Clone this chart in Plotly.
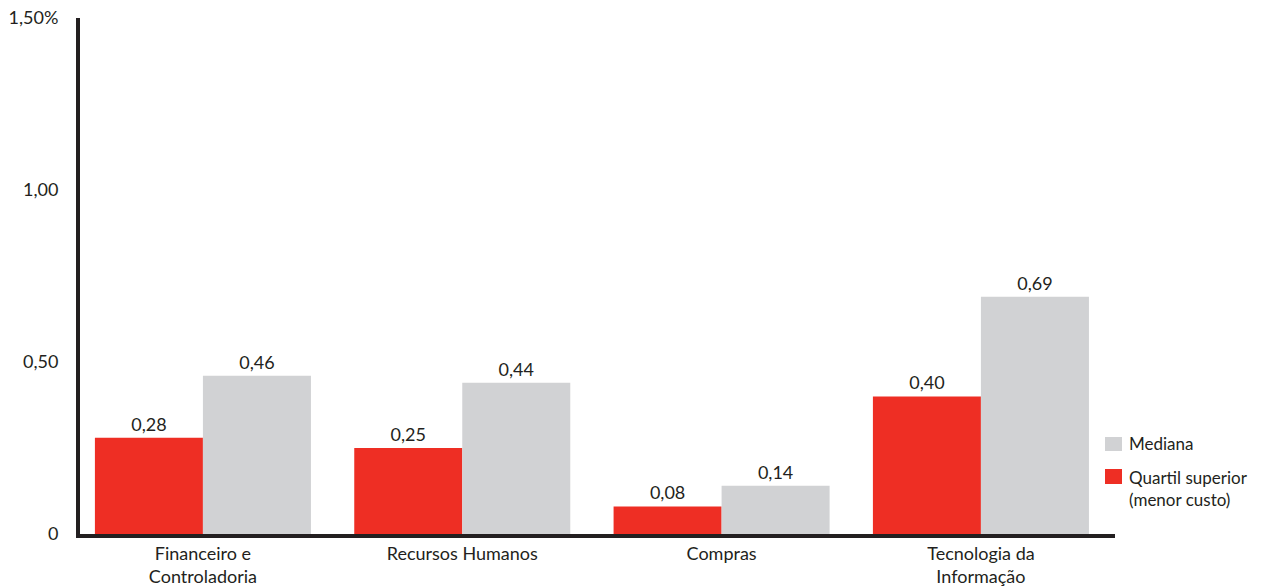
import plotly.graph_objects as go

# Cost per process area, as % of revenue
categorias = ["Financeiro e<br>Controladoria", "Recursos Humanos", "Compras", "Tecnologia da<br>Informação"]
quartil_superior = [0.28, 0.25, 0.08, 0.40]
mediana = [0.46, 0.44, 0.14, 0.69]
tick_vals = [0, 0.5, 1.0, 1.5]
tick_text = ["0", "0,50", "1,00", "1,50%"]
nome_mediana = "Mediana"
nome_quartil = "Quartil superior<br>(menor custo)"

VERMELHO = "#ee2e24"
CINZA = "#d1d2d4"
TEXTO = "#231f20"
FONTE = "Lato, 'Open Sans', sans-serif"

W, H = 1266, 587
M_L, M_R, M_T, M_B = 80, 151, 18, 53
PW, PH = W - M_L - M_R, H - M_T - M_B


def px_x(p):
    """Horizontal pixel position -> paper coordinate."""
    return (p - M_L) / PW


def px_y(p):
    """Vertical pixel position (from top) -> paper coordinate."""
    return (H - M_B - p) / PH


fig = go.Figure()
fig.add_trace(go.Bar(
    x=categorias, y=quartil_superior, name=nome_quartil,
    marker=dict(color=VERMELHO, line=dict(width=0)),
    texttemplate="%{y:.2f}", textposition="outside", cliponaxis=False,
    textfont=dict(size=18, color=TEXTO),
))
fig.add_trace(go.Bar(
    x=categorias, y=mediana, name=nome_mediana,
    marker=dict(color=CINZA, line=dict(width=0)),
    texttemplate="%{y:.2f}", textposition="outside", cliponaxis=False,
    textfont=dict(size=18, color=TEXTO),
))

# Legend: colour swatches with their labels, right of the plot
legenda = [
    (CINZA, nome_mediana, 437, 451, 443),
    (VERMELHO, nome_quartil, 469, 484, 488),
]
shapes, annotations = [], []
for cor, nome, topo, base, centro in legenda:
    shapes.append(dict(
        type="rect", xref="paper", yref="paper",
        x0=px_x(1105), x1=px_x(1122), y0=px_y(base), y1=px_y(topo),
        fillcolor=cor, line=dict(width=0), layer="above",
    ))
    annotations.append(dict(
        xref="paper", yref="paper", x=px_x(1127), y=px_y(centro),
        xanchor="left", yanchor="middle", align="left", showarrow=False,
        text=nome, font=dict(size=17, color=TEXTO, family=FONTE),
    ))

fig.update_layout(
    width=W, height=H,
    margin=dict(l=M_L, r=M_R, t=M_T, b=M_B),
    paper_bgcolor="white", plot_bgcolor="white",
    separators=",.",
    barmode="group", bargap=0.167, bargroupgap=0,
    font=dict(family=FONTE, size=18, color=TEXTO),
    showlegend=False,
    shapes=shapes, annotations=annotations,
)
fig.update_xaxes(
    showline=True, linewidth=4, linecolor=TEXTO,
    showgrid=False, ticks="", tickfont=dict(size=18, color=TEXTO),
    range=[-0.474, 3.517], automargin=False,
)
fig.update_yaxes(
    range=[0, 1.5], tickvals=tick_vals, ticktext=tick_text,
    showline=True, linewidth=4, linecolor=TEXTO,
    showgrid=False, zeroline=False, ticks="outside", ticklen=14, tickcolor="white",
    tickfont=dict(size=18, color=TEXTO), automargin=False,
)

fig.write_html("out.html")
